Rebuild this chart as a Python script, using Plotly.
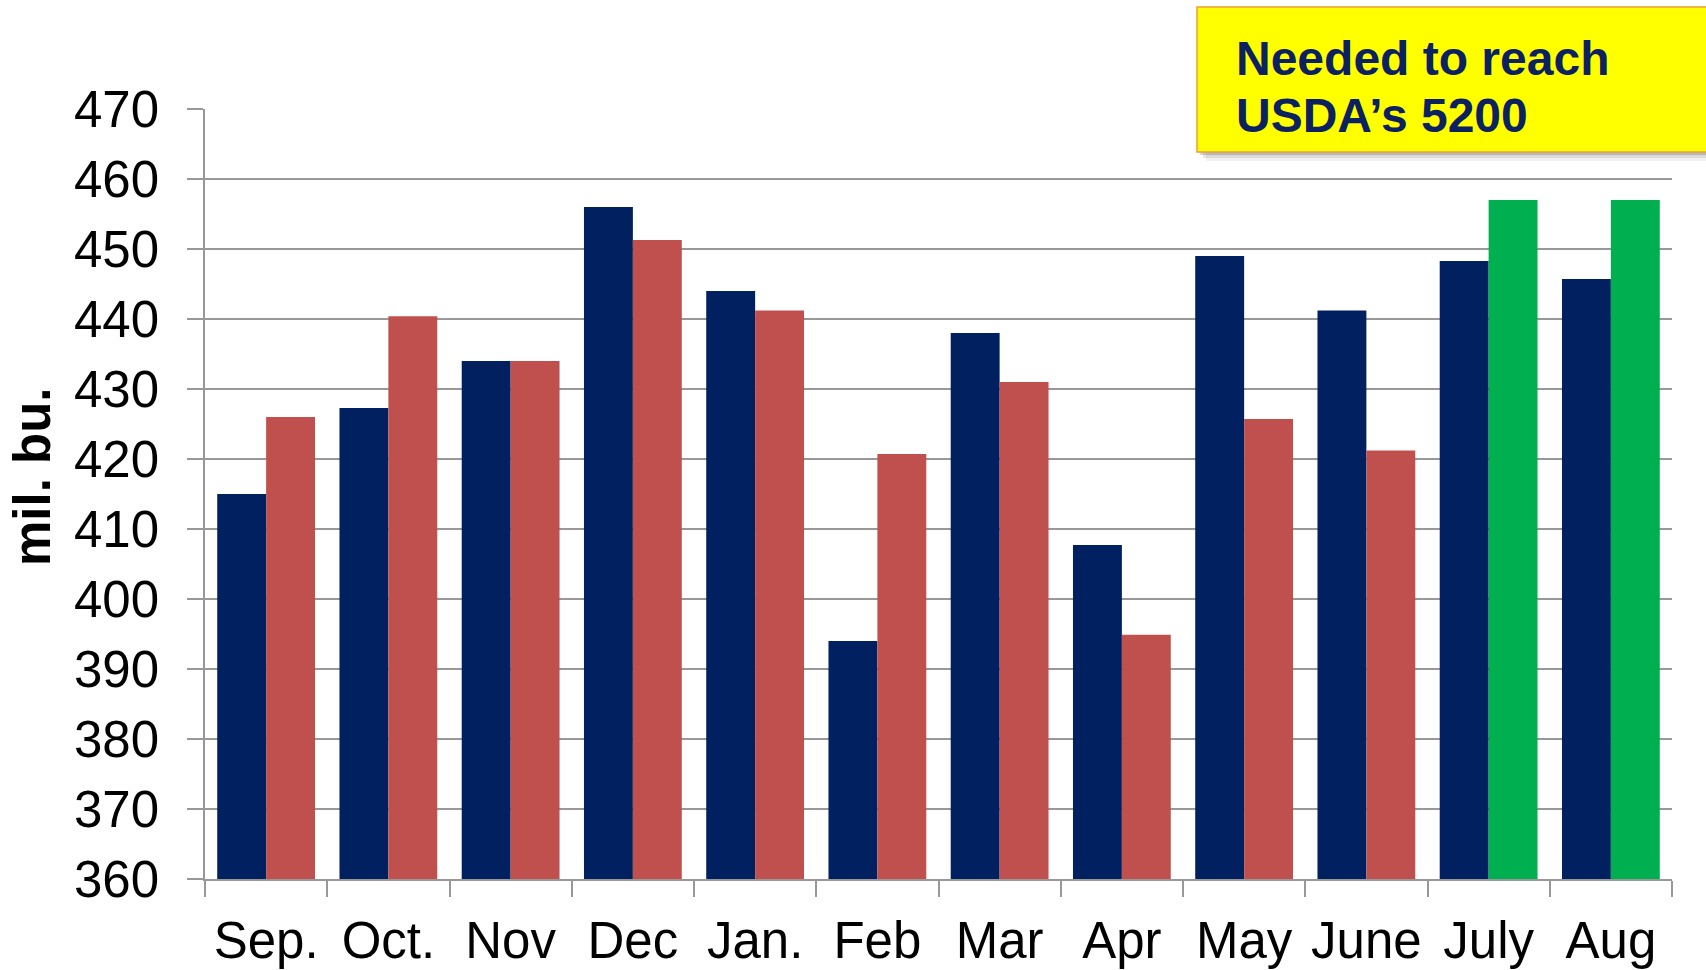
import plotly.graph_objects as go

months = ["Sep.", "Oct.", "Nov", "Dec", "Jan.", "Feb", "Mar", "Apr", "May", "June", "July", "Aug"]
current = [415, 427.3, 434, 456, 444, 394, 438, 407.7, 449, 441.2, 448.3, 445.7]
previous = [426, 440.4, 434, 451.3, 441.2, 420.7, 431, 394.9, 425.7, 421.2, None, None]
needed = [None, None, None, None, None, None, None, None, None, None, 457, 457]

y_ticks = [360, 370, 380, 390, 400, 410, 420, 430, 440, 450, 460, 470]
y_title = "mil. bu."
note_lines = ["Needed to reach", "USDA\u2019s 5200"]

W, H = 1706, 970
L, R, T, B = 205, 34, 109, 91
pw, ph = W - L - R, H - T - B

def px(x):
    return (x - L) / pw

def py(y):
    return (H - B - y) / ph

FONT = "Arial, Liberation Sans, sans-serif"
GRID = "#989898"

fig = go.Figure()
fig.add_trace(go.Bar(x=months, y=current, marker_color="#002060",
                     marker_line_width=0, offsetgroup="a", name="current"))
fig.add_trace(go.Bar(x=months, y=previous, marker_color="#C0504D",
                     marker_line_width=0, offsetgroup="b", name="previous"))
fig.add_trace(go.Bar(x=months, y=needed, marker_color="#00B050",
                     marker_line_width=0, offsetgroup="b", name="needed"))

fig.update_layout(
    width=W, height=H,
    margin=dict(l=L, r=R, t=T, b=B, pad=0),
    paper_bgcolor="white", plot_bgcolor="white",
    barmode="group", bargap=0.2, bargroupgap=0,
    showlegend=False, hovermode=False,
    font=dict(family=FONT, size=51, color="black"),
)
fig.update_yaxes(
    range=[360, 470], tickvals=y_ticks, ticktext=[str(v) for v in y_ticks],
    showgrid=True, gridcolor=GRID, gridwidth=1.5,
    showline=True, linecolor=GRID, linewidth=1.5,
    ticks="outside", ticklen=16, tickcolor=GRID, tickwidth=1.5,
    ticklabelstandoff=18, zeroline=False, automargin=False,
    tickfont=dict(size=51, family=FONT, color="black"),
)
fig.update_xaxes(
    type="category", tickson="boundaries",
    showline=True, linecolor=GRID, linewidth=1.5,
    ticks="outside", ticklen=16, tickcolor=GRID, tickwidth=1.5,
    showgrid=False, tickangle=0, ticklabelstandoff=16, automargin=False,
    tickfont=dict(size=51, family=FONT, color="black"),
)

# y-axis title
fig.add_annotation(
    x=px(32), y=py(477), xref="paper", yref="paper",
    text="<b>" + y_title + "</b>", textangle=-90, showarrow=False,
    font=dict(size=51, family=FONT, color="black"),
    xanchor="center", yanchor="middle",
)

# note box shadow and box
for off, op in [(3, 0.22), (6, 0.13), (9, 0.07)]:
    fig.add_shape(type="rect", xref="paper", yref="paper",
                  x0=px(1197 + off), x1=px(1720), y0=py(152 + off), y1=py(7 + off),
                  fillcolor="#404040", opacity=op, line_width=0, layer="above")
fig.add_shape(type="rect", xref="paper", yref="paper",
              x0=px(1197), x1=px(1720), y0=py(152), y1=py(7),
              fillcolor="#FFFF00", line=dict(color="#F0A030", width=1.5), layer="above")
for line, yc in zip(note_lines, [58, 116]):
    fig.add_annotation(
        x=px(1234), y=py(yc), xref="paper", yref="paper",
        text="<b>" + line + "</b>", showarrow=False, align="left",
        font=dict(size=48, family=FONT, color="#0B2161"),
        xanchor="left", yanchor="middle",
    )

fig.write_html("out.html", config={"displayModeBar": False},
               post_script="document.body.style.margin='0';document.body.style.overflow='hidden';")
